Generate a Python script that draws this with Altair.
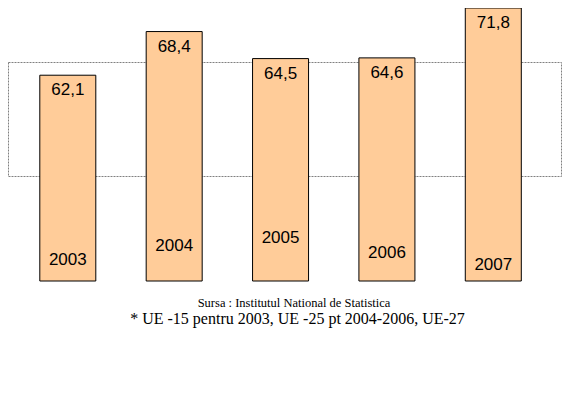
import altair as alt
import pandas as pd

years = ["2003", "2004", "2005", "2006", "2007"]
values = [62.1, 68.4, 64.5, 64.6, 71.8]
value_labels = ["62,1", "68,4", "64,5", "64,6", "71,8"]
source_note = "Sursa : Institutul National de Statistica"
foot_note = "* UE -15 pentru 2003, UE -25 pt 2004-2006, UE-27"

# layout constants (pixel raise of the year label above the bar base)
year_label_raise = [-21, -35, -43, -28, -16]

df = pd.DataFrame({"year": years, "value": values, "label": value_labels,
                   "yoff": year_label_raise})

W, H = 554, 340
Y_MIN = 32.4
x_scale = alt.Scale(domain=years, range=[31.8, 513.3], paddingInner=0.4735, paddingOuter=0)
y_scale = alt.Scale(domain=[Y_MIN, 71.8], range=[273, 0], zero=False, nice=False)

base = alt.Chart(df)

frame = alt.Chart(pd.DataFrame({"k": [0]})).mark_rect(
    fill=None, stroke="#808080", strokeWidth=1, strokeDash=[2, 1]
).encode(x=alt.value(0.5), x2=alt.value(553.5), y=alt.value(54.5), y2=alt.value(168.5))

bars = base.mark_bar(fill="#FFCC99", stroke="black", strokeWidth=1).encode(
    x=alt.X("year:N", scale=x_scale, axis=None),
    y=alt.Y("value:Q", scale=y_scale, axis=None),
    y2=alt.datum(Y_MIN),
)

vlabels = base.mark_text(font="Liberation Sans", fontSize=17, color="black",
                         baseline="middle", align="center", dy=15).encode(
    x=alt.X("year:N", scale=x_scale, axis=None),
    y=alt.Y("value:Q", scale=y_scale, axis=None),
    text="label:N",
)

ylabels = base.mark_text(font="Liberation Sans", fontSize=17, color="black",
                         baseline="middle", align="center").encode(
    x=alt.X("year:N", scale=x_scale, axis=None),
    y=alt.datum(Y_MIN, scale=y_scale),
    yOffset=alt.YOffset("yoff:Q", scale=None),
    text="year:N",
)

notes = alt.Chart(pd.DataFrame({"t": [source_note]})).mark_text(
    font="Liberation Serif", fontSize=12.5, color="black", align="center", baseline="alphabetic"
).encode(x=alt.value(286), y=alt.value(299), text="t:N")

notes2 = alt.Chart(pd.DataFrame({"t": [foot_note]})).mark_text(
    font="Liberation Serif", fontSize=16, color="black", align="center", baseline="alphabetic"
).encode(x=alt.value(289.5), y=alt.value(316), text="t:N")

chart = alt.layer(frame, bars, vlabels, ylabels, notes, notes2).properties(
    width=W, height=H, padding=0, autosize=alt.AutoSizeParams(type="none")
).configure_view(strokeWidth=0, stroke="transparent")

chart.save("out.html", embed_options={"renderer": "svg", "actions": False})
